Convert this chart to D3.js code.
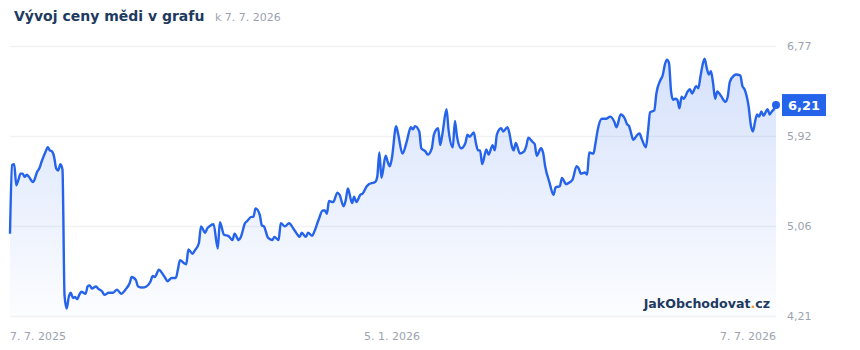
<!DOCTYPE html>
<html>
<head>
<meta charset="utf-8">
<script src="https://cdn.jsdelivr.net/npm/d3@7"></script>
<style>
  body { margin: 0; background: #fff; }
  svg { display: block; font-family: "DejaVu Sans", sans-serif; }
</style>
</head>
<body>
<svg id="chart" width="860" height="350"></svg>
<script>
// copper price, USD/lb, day offsets counted from the start date
var startDate = "2025-07-07";
var dayOffsets = [0,1,2,3,4,5,6,7,8,9,11,13,14,15,17,18,19,20,21,22,23,24,25,26,27,28,29,30,31,32,33,34,36,37,38,39,41,42,44,45,47,49,51,52,53,55,57,58,60,61,63,65,67,68,69,71,72,74,75,
  77,79,80,81,83,84,85,87,88,90,91,93,94,95,97,99,100,102,104,106,107,109,110,112,113,115,116,117,119,120,121,123,125,126,128,129,131,133,135,137,138,139,141,142,144,145,147,149,150,151,
  152,154,156,157,159,160,161,163,164,165,167,168,170,171,174,175,176,177,179,180,181,182,184,185,187,189,191,192,193,195,196,198,199,201,202,204,205,206,208,209,211,212,213,215,217,218,219,221,222,223,224,225,227,228,
  230,231,232,234,235,237,238,239,240,241,243,245,246,247,249,250,251,253,254,255,257,259,260,262,263,265,266,268,270,271,272,274,275,276,278,279,280,282,284,286,288,289,291,293,294,295,
  296,297,299,300,301,303,304,305,307,308,310,311,312,313,314,315,316,317,318,319,320,321,323,324,325,327,328,329,330,331,332,333,334,335,336,337,338,339,341,342,343,345,346,348,349,350,352,353,354,355,356,357,358,359,361,362,363,364,365];
var prices = [4.99,5.64,5.65,5.45,5.50,5.56,5.56,5.53,5.55,5.53,5.48,5.58,5.61,5.67,5.77,5.81,5.78,5.77,5.72,5.61,5.59,5.65,5.60,4.40,4.28,4.39,4.43,4.38,4.39,4.37,4.41,4.44,4.42,4.49,4.50,4.47,4.49,4.47,4.44,4.41,4.43,4.43,4.46,4.44,4.42,4.46,4.52,4.58,4.55,4.49,4.48,4.49,4.54,4.59,4.58,4.65,4.63,4.57,4.54,
  4.57,4.57,4.65,4.74,4.71,4.70,4.84,4.80,4.83,4.90,5.06,5.00,5.04,5.06,5.08,4.85,5.10,4.98,4.97,4.93,4.99,4.93,4.96,5.09,5.11,5.15,5.15,5.23,5.17,5.07,5.06,4.95,4.93,4.96,4.93,5.09,5.06,5.09,5.04,4.98,4.96,5.00,4.96,5.00,4.97,5.01,5.12,5.21,5.21,5.18,
  5.30,5.29,5.38,5.36,5.25,5.31,5.42,5.28,5.34,5.29,5.36,5.37,5.44,5.46,5.48,5.53,5.76,5.52,5.73,5.67,5.63,5.71,6.01,5.93,5.75,5.86,6.00,5.98,6.01,5.96,5.80,5.77,5.74,5.80,5.93,5.99,5.83,5.93,6.17,5.97,5.81,6.06,5.91,5.80,5.85,5.93,5.91,5.95,5.85,5.78,5.78,5.65,5.79,5.74,
  5.83,5.78,5.93,5.99,5.96,6.00,5.94,5.83,5.78,5.85,5.75,5.77,5.82,5.90,5.86,5.84,5.73,5.80,5.76,5.63,5.48,5.36,5.43,5.44,5.52,5.46,5.47,5.50,5.63,5.61,5.56,5.57,5.55,5.76,5.75,5.85,5.97,6.08,6.08,6.10,6.05,6.00,6.12,6.08,6.03,6.01,
  5.94,5.88,5.93,5.94,5.89,5.81,5.96,6.14,6.16,6.32,6.45,6.49,6.59,6.64,6.61,6.34,6.26,6.27,6.26,6.18,6.29,6.27,6.34,6.36,6.32,6.39,6.37,6.48,6.59,6.65,6.56,6.50,6.53,6.42,6.27,6.34,6.32,6.29,6.24,6.29,6.43,6.49,6.50,6.49,6.39,6.36,6.19,6.02,5.96,6.05,6.12,6.10,6.15,6.11,6.17,6.12,6.15,6.17,6.21];

var yTicks = [4.21, 5.06, 5.92, 6.77];
var xTickDates = ["2025-07-07", "2026-01-05", "2026-07-07"];
var xTickLabels = ["7. 7. 2025", "5. 1. 2026", "7. 7. 2026"];
var titleText = "Vývoj ceny mědi v grafu";
var subtitleText = "k 7. 7. 2026";

var parse = d3.timeParse("%Y-%m-%d");
var start = parse(startDate);
var data = dayOffsets.map(function(d, i) {
    return { date: d3.timeDay.offset(start, d), value: prices[i] };
});

// plot box (window.top is reserved, so prefixed names)
var plotL = 10, plotR = 776, plotT = 46, plotB = 316;
var svg = d3.select("#chart");

var x = d3.scaleTime()
    .domain([start, parse(xTickDates[2])])
    .range([plotL, plotR]);
var y = d3.scaleLinear()
    .domain(d3.extent(yTicks))
    .range([plotB, plotT]);

var fmt = function(v) { return d3.format(".2f")(v).replace(".", ","); };

// gradient for the area
var grad = svg.append("defs").append("linearGradient")
    .attr("id", "fillGrad")
    .attr("gradientUnits", "userSpaceOnUse")
    .attr("x1", 0).attr("x2", 0)
    .attr("y1", plotT).attr("y2", plotB);
grad.append("stop").attr("offset", "0%").attr("stop-color", "#2563eb").attr("stop-opacity", 0.2);
grad.append("stop").attr("offset", "100%").attr("stop-color", "#2563eb").attr("stop-opacity", 0.015);

// grid
svg.append("g")
    .selectAll("line")
    .data(yTicks)
    .enter()
    .append("line")
    .attr("x1", plotL)
    .attr("x2", plotR)
    .attr("y1", d => Math.round(y(d)) + 0.5)
    .attr("y2", d => Math.round(y(d)) + 0.5)
    .attr("stroke", "#f1f2f4")
    .attr("stroke-width", 1.5);

// right axis labels
var axisY = d3.axisRight(y).tickValues(yTicks).tickFormat(fmt).tickSize(0).tickPadding(11);
var gy = svg.append("g").attr("transform", "translate(" + plotR + ",0)").call(axisY);
gy.select(".domain").remove();
gy.selectAll("text")
    .attr("fill", "#9ca3af")
    .attr("font-size", 11)
    .attr("font-family", "DejaVu Sans, sans-serif");

// bottom labels
svg.append("g")
    .selectAll("text")
    .data(xTickDates)
    .enter()
    .append("text")
    .attr("x", d => x(parse(d)))
    .attr("y", 340)
    .attr("text-anchor", (d, i) => i == 0 ? "start" : (i == xTickDates.length - 1 ? "end" : "middle"))
    .attr("font-size", 11)
    .attr("fill", "#9ca3af")
    .text((d, i) => xTickLabels[i]);

// area + line
var area = d3.area()
    .x(d => x(d.date))
    .y0(plotB)
    .y1(d => y(d.value))
    .curve(d3.curveMonotoneX);
var line = d3.line()
    .x(d => x(d.date))
    .y(d => y(d.value))
    .curve(d3.curveMonotoneX);

svg.append("path")
    .datum(data)
    .attr("d", area)
    .attr("fill", "url(#fillGrad)");

svg.append("path")
    .datum(data)
    .attr("d", line)
    .attr("fill", "none")
    .attr("stroke", "#2563eb")
    .attr("stroke-width", 2.4)
    .attr("stroke-linejoin", "round");

// watermark
var wm = svg.append("text")
    .attr("x", 770)
    .attr("y", 308)
    .attr("text-anchor", "end")
    .attr("font-size", 12.6)
    .attr("font-weight", "bold")
    .attr("fill", "#1e3a5f");
wm.append("tspan").text("JakObchodovat");
wm.append("tspan").attr("fill", "#f59e0b").text(".");
wm.append("tspan").text("cz");

// last value marker
var last = data[data.length - 1];
svg.append("circle")
    .attr("cx", x(last.date))
    .attr("cy", y(last.value))
    .attr("r", 4)
    .attr("fill", "#2563eb");
svg.append("rect")
    .attr("x", 782)
    .attr("y", y(last.value) - 11)
    .attr("width", 44)
    .attr("height", 22)
    .attr("fill", "#2563eb");
svg.append("text")
    .attr("x", 804)
    .attr("y", y(last.value) + 4.5)
    .attr("text-anchor", "middle")
    .attr("font-size", 13)
    .attr("font-weight", "bold")
    .attr("fill", "#fff")
    .text(fmt(last.value));

// title
svg.append("text")
    .attr("x", 14)
    .attr("y", 21)
    .attr("font-size", 14)
    .attr("font-weight", "bold")
    .attr("fill", "#1e3a5f")
    .text(titleText);
svg.append("text")
    .attr("x", 215)
    .attr("y", 21)
    .attr("font-size", 11)
    .attr("fill", "#9ca3af")
    .text(subtitleText);
</script>
</body>
</html>
